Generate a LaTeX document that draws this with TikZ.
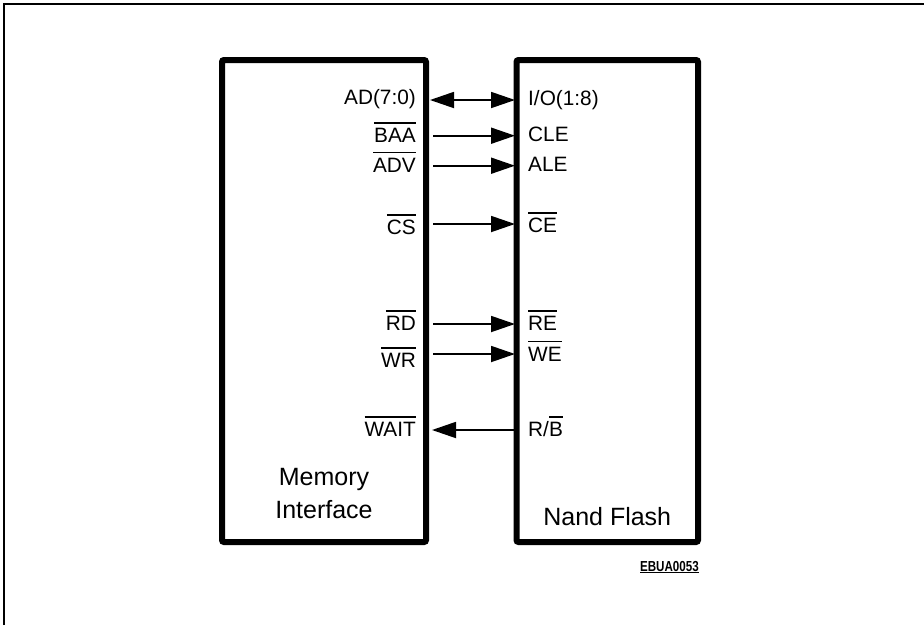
\documentclass[tikz,border=0pt]{standalone}
\usepackage{fontspec}
\setmainfont{Liberation Sans}
\usetikzlibrary{arrows.meta}
\newcommand\myol[1]{\setbox0\hbox{#1}\rlap{\rule[\dimexpr\ht0+4.2pt\relax]{\wd0}{1.8pt}}#1}
\newcommand\myul[1]{\setbox0\hbox{#1}\rlap{\rule[-2.2pt]{\wd0}{1.3pt}}#1}
\begin{document}
\begin{tikzpicture}[x=1pt,y=-1pt,
  sig/.style={font=\fontsize{20.8}{24}\selectfont, inner sep=0pt},
  big/.style={font=\fontsize{25}{32.6}\selectfont, inner sep=0pt, align=center, anchor=base},
  blk/.style={draw, line width=6pt, rounded corners=2pt, inner sep=0pt, outer sep=0pt},
  wire/.style={line width=1.8pt},
  tip/.style={-{Triangle[length=24pt,width=16pt]}},
  bitip/.style={{Triangle[length=24pt,width=16pt]}-{Triangle[length=24pt,width=16pt]}}]
\useasboundingbox (0,0) rectangle (924,625);
% outer frame
\draw[line width=2pt] (4,625) -- (4,4) -- (924,4);
% blocks
\node[blk, minimum width=204pt, minimum height=482pt] (mi) at (324,301) {};
\node[blk, minimum width=181.5pt, minimum height=482pt] (nf) at (607.25,301) {};
\node[big] (mitxt) at (324,518.3) {Memory\\Interface};
\node[big] (nftxt) at (607.25,525.7) {Nand Flash};
% left labels
\node[sig, anchor=base east] (lad) at (416,104.5) {AD(7:0)};
\node[sig, anchor=base east] (lbaa) at (416,142.5) {\myol{BAA}};
\node[sig, anchor=base east] (ladv) at (416,172) {\myol{ADV}};
\node[sig, anchor=base east] (lcs) at (416,234.5) {\myol{CS}};
\node[sig, anchor=base east] (lrd) at (416,330.5) {\myol{RD}};
\node[sig, anchor=base east] (lwr) at (416,367.5) {\myol{WR}};
\node[sig, anchor=base east] (lwait) at (416,436.5) {\myol{WAIT}};
% right labels
\node[sig, anchor=base west] (rio) at (528,105) {I/O(1:8)};
\node[sig, anchor=base west] (rcle) at (528,141.7) {CLE};
\node[sig, anchor=base west] (rale) at (528,171.7) {ALE};
\node[sig, anchor=base west] (rce) at (528,232.7) {\myol{CE}};
\node[sig, anchor=base west] (rre) at (528,330.5) {\myol{RE}};
\node[sig, anchor=base west] (rwe) at (528,361) {\myol{WE}};
\node[sig, anchor=base west] (rrb) at (528,436.5) {R/\myol{B}};
% connector ends
\coordinate (a1) at (430,100);   \coordinate (b1) at (515,100);
\coordinate (a2) at (433,135.7); \coordinate (b2) at (515,135.7);
\coordinate (a3) at (433,165.7); \coordinate (b3) at (515,165.7);
\coordinate (a4) at (433,224);   \coordinate (b4) at (515,224);
\coordinate (a5) at (433,324);   \coordinate (b5) at (515,324);
\coordinate (a6) at (433,354);   \coordinate (b6) at (515,354);
\coordinate (a7) at (432,430);   \coordinate (b7) at (515,430);
\draw[wire, bitip] (a1) -- (b1);
\draw[wire, tip] (a2) -- (b2);
\draw[wire, tip] (a3) -- (b3);
\draw[wire, tip] (a4) -- (b4);
\draw[wire, tip] (a5) -- (b5);
\draw[wire, tip] (a6) -- (b6);
\draw[wire, tip] (b7) -- (a7);
% code
\node[inner sep=0pt, anchor=base east, font=\bfseries\fontsize{14.5}{16}\selectfont] (code) at (699,571) {\scalebox{0.8}[1]{\myul{EBUA0053}}};
\end{tikzpicture}
\end{document}
